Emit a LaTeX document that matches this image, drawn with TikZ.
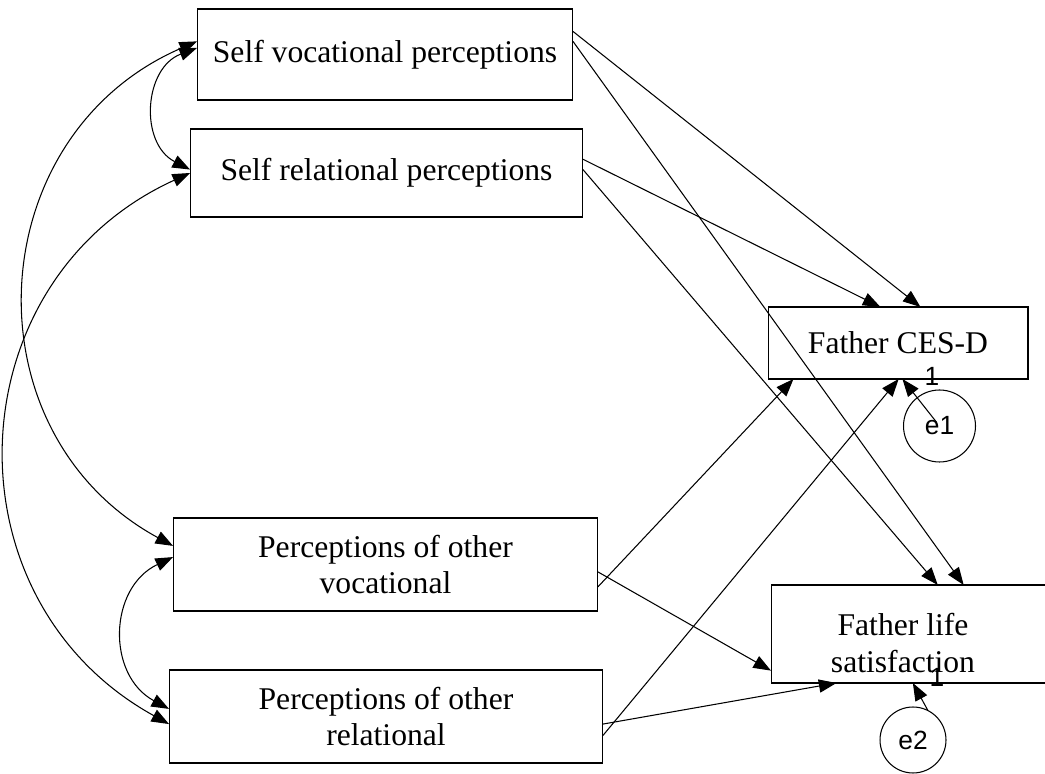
\documentclass[tikz,border=0pt]{standalone}
\usepackage{fontspec}
\setmainfont{Liberation Serif}
\newfontfamily\arialfont{Liberation Sans}
\usetikzlibrary{arrows.meta}
\tikzset{
  box/.style={draw=black,line width=0.6pt,inner sep=0pt,outer sep=0pt,align=center,font=\fontsize{18}{21}\selectfont},
  err/.style={draw=black,line width=0.6pt,circle,inner sep=0pt,outer sep=0pt,font=\arialfont\fontsize{15}{17}\selectfont},
  num/.style={inner sep=0pt,font=\arialfont\fontsize{15}{17}\selectfont},
  reg/.style={-{Triangle[length=10pt,width=7.5pt]},line width=0.6pt},
  cov/.style={{Triangle[length=10pt,width=7.5pt]}-{Triangle[length=10pt,width=7.5pt]},line width=0.6pt,looseness=1.2}
}
\begin{document}
\begin{tikzpicture}[x=0.02cm,y=0.02cm]
          \useasboundingbox (0,0) rectangle (1045,774);
          % \draw[help lines] (0,0) grid (1045,774);
          \node[box,minimum width=7.52cm,minimum height=1.82cm] (sv) at (385,719.5) {Self vocational perceptions};
          \node[box,minimum width=7.86cm,minimum height=1.76cm] (sr) at (386.5,601) {Self relational perceptions};
          \node[box,minimum width=8.5cm,minimum height=1.86cm]  (pv) at (385.5,209.5) {Perceptions of other\\vocational};
          \node[box,minimum width=8.68cm,minimum height=1.86cm] (pr) at (386,57.5) {Perceptions of other\\relational};
          \node[box,minimum width=5.2cm,minimum height=1.44cm]  (fc) at (898,431) {Father CES-D};
          \node[box,minimum width=5.88cm,minimum height=1.96cm] (fl) at (918,140) {};
          \node[box,draw=none] (fltext) at (903,131) {Father life\\satisfaction};
          \node[err,minimum size=1.44cm] (e1) at (939.5,348) {e1};
          \node[err,minimum size=1.32cm] (e2) at (913,34) {e2};
          \node[num] (one1) at (932,398) {1};
          \node[num] (one2) at (937,97) {1};
          % covariances
          \draw[cov] (sv.178.6) to[out=200.7,in=152.7] (sr.179.1);
          \draw[cov] (sv.176.5) to[out=203.4,in=151.4] (pv.175.6);
          \draw[cov] (sr.180.9) to[out=204.5,in=151.1] (pr.182.8);
          \draw[cov] (pv.178.8) to[out=205.4,in=151.6] (pr.178.3);
          % paths
          \draw[reg] (sv.7.1) -- (fc.58.6);
          \draw[reg] (sv.4.7) -- (fl.47.4);
          \draw[reg] (sr.4.4) -- (fc.116.6);
          \draw[reg] (sr.1.7) -- (fl.68.8);
          \draw[reg] (pv.354) -- (fc.199.8);
          \draw[reg] (pv.358.8) -- (fl.194.9);
          \draw[reg] (pr.358.8) -- (fl.211.2);
          \draw[reg] (pr.355.7) -- (fc.271.6);
          \draw[reg,shorten <=0.1cm] (e1.center) -- (fc.277.9);
          \draw[reg] (e2.63) -- (fl.264.2);
        \end{tikzpicture}
\end{document}
